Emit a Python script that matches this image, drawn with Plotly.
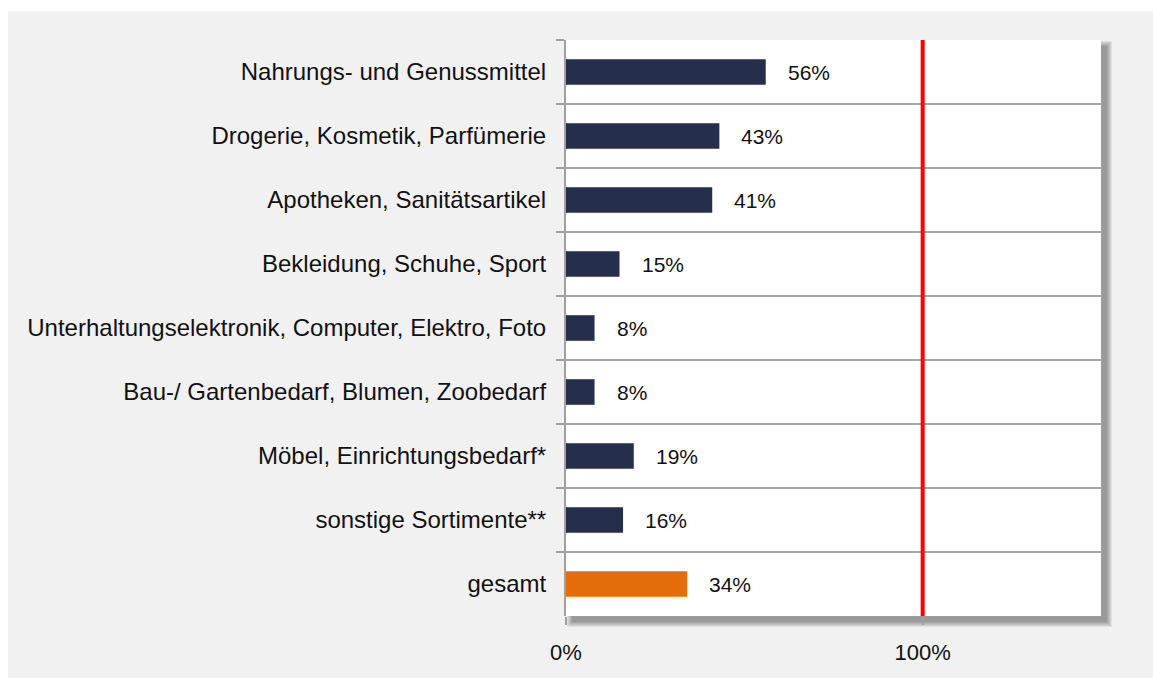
import plotly.graph_objects as go

# ---- data ----
categories = [
    "Nahrungs- und Genussmittel",
    "Drogerie, Kosmetik, Parfümerie",
    "Apotheken, Sanitätsartikel",
    "Bekleidung, Schuhe, Sport",
    "Unterhaltungselektronik, Computer, Elektro, Foto",
    "Bau-/ Gartenbedarf, Blumen, Zoobedarf",
    "Möbel, Einrichtungsbedarf*",
    "sonstige Sortimente**",
    "gesamt",
]
values = [56, 43, 41, 15, 8, 8, 19, 16, 34]
value_labels = ["56%", "43%", "41%", "15%", "8%", "8%", "19%", "16%", "34%"]
x_tickvals = [0, 100]
x_ticktext = ["0%", "100%"]
reference_value = 100

# ---- style ----
NAVY = "#252F4C"
ORANGE = "#E46C0A"
BG = "#F1F1F1"
FONT = "Liberation Sans, Arial, sans-serif"
bar_colors = [ORANGE if c == "gesamt" else NAVY for c in categories]

W, H = 1153, 678
ML, MR, MT, MB = 566, 52, 40, 62
PW = W - ML - MR
PH = H - MT - MB


def px(x_abs):
    return (x_abs - ML) / PW


def py(y_abs):
    return (H - MB - y_abs) / PH


fig = go.Figure()
fig.add_trace(go.Bar(
    y=categories, x=values, orientation="h",
    marker=dict(color=bar_colors, line=dict(width=0)),
    width=0.4, hoverinfo="skip",
))

for c, v, t in zip(categories, values, value_labels):
    fig.add_annotation(
        x=v, y=c, xref="x", yref="y", text=t, showarrow=False,
        xanchor="left", yanchor="middle", xshift=20,
        font=dict(family=FONT, size=21, color="#111111"),
    )

shapes = []
# white page strips at top and left (outer frame is gray paper)
shapes.append(dict(type="rect", xref="paper", yref="paper",
                   x0=px(-5), x1=px(W + 5), y0=py(11), y1=py(-5),
                   fillcolor="white", line=dict(width=0), layer="below"))
shapes.append(dict(type="rect", xref="paper", yref="paper",
                   x0=px(-5), x1=px(8), y0=py(H + 5), y1=py(-5),
                   fillcolor="white", line=dict(width=0), layer="below"))
# soft shadow
plot_l, plot_r = ML, ML + PW
plot_t, plot_b = MT, MT + PH
for b in [5, 4, 3, 2, 1, 0]:
    shapes.append(dict(type="rect", xref="paper", yref="paper",
                       x0=px(plot_l + 6 - b), x1=px(plot_r + 6 + b),
                       y0=py(plot_b + 6 + b), y1=py(plot_t + 6 - b),
                       fillcolor="rgba(0,0,0,0.07)", line=dict(width=0),
                       layer="below"))
# white plot area
shapes.append(dict(type="rect", xref="paper", yref="paper",
                   x0=0, x1=1, y0=0, y1=1,
                   fillcolor="white", line=dict(width=0), layer="below"))
# red 100% reference line
shapes.append(dict(type="line", xref="x", yref="paper",
                   x0=reference_value, x1=reference_value, y0=0, y1=1,
                   line=dict(color="#FF0000", width=4), layer="above"))

fig.update_layout(
    width=W, height=H,
    margin=dict(l=ML, r=MR, t=MT, b=MB, pad=0),
    paper_bgcolor=BG, plot_bgcolor="white",
    showlegend=False, bargap=0.6,
    shapes=shapes,
    font=dict(family=FONT, color="#111111"),
    xaxis=dict(
        range=[0, 150], tickvals=x_tickvals, ticktext=x_ticktext,
        showgrid=False, zeroline=False, showline=False,
        ticks="outside", ticklen=8, tickwidth=2, tickcolor="#A0A0A0",
        tickfont=dict(family=FONT, size=22, color="#111111"),
        ticklabelstandoff=9, fixedrange=True,
    ),
    yaxis=dict(
        type="category", autorange="reversed", tickson="boundaries",
        showgrid=True, gridcolor="#A6A6A6", gridwidth=1.5,
        showline=True, linecolor="#A0A0A0", linewidth=2,
        ticks="outside", ticklen=8, tickwidth=1.5, tickcolor="#A0A0A0",
        tickfont=dict(family=FONT, size=24, color="#111111"),
        ticklabelstandoff=13, fixedrange=True,
    ),
)

fig.write_html(
    "out.html",
    config={"displayModeBar": False, "staticPlot": True},
    post_script=(
        "document.documentElement.style.overflow='hidden';"
        "document.documentElement.style.margin='0';"
        "document.body.style.margin='0';"
        "document.body.style.padding='0';"
        "document.body.style.overflow='hidden';"
        "document.body.style.background='" + BG + "';"
    ),
)
